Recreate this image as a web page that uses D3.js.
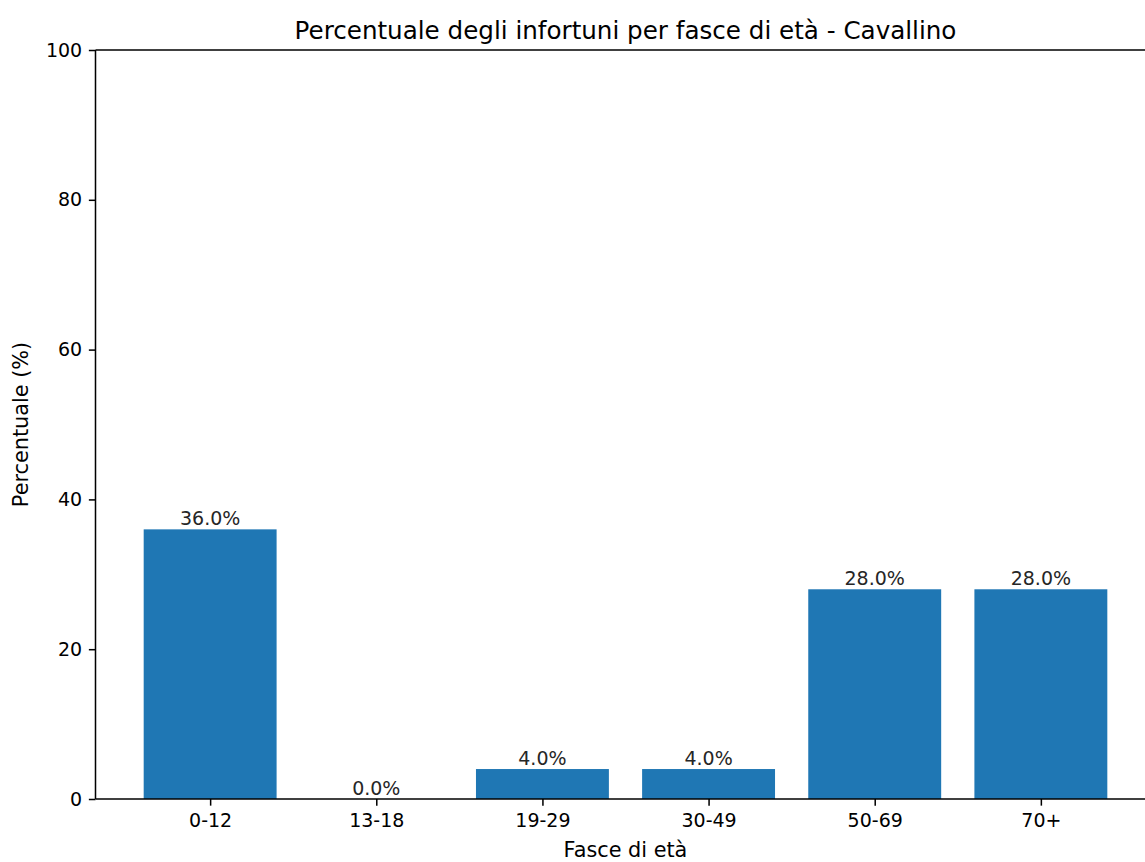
<!DOCTYPE html>
<html>
<head>
<meta charset="utf-8">
<script src="https://cdn.jsdelivr.net/npm/d3@7"></script>
<style>
  html, body { margin: 0; padding: 0; background: #fff; }
  svg { display: block; font-family: "DejaVu Sans", sans-serif; }
</style>
</head>
<body>
<svg id="chart" width="1145" height="862"></svg>
<script>
const categories = ["0-12", "13-18", "19-29", "30-49", "50-69", "70+"];
const values = [36.0, 0.0, 4.0, 4.0, 28.0, 28.0];
const yTicks = [0, 20, 40, 60, 80, 100];
const title = "Percentuale degli infortuni per fasce di età - Cavallino";
const xLabel = "Fasce di età";
const yLabel = "Percentuale (%)";

(function () {
const svg = d3.select("#chart");
const mLeft = 95.5, mRight = 1155.5, mTop = 50, mBottom = 799;
const pt = 1.9;

const n = categories.length;
const barW = 0.8;
const pad = (n - 1 + barW) * 0.05;
const x = d3.scaleLinear().domain([-barW / 2 - pad, n - 1 + barW / 2 + pad]).range([mLeft, mRight]);
const y = d3.scaleLinear().domain([0, 100]).range([mBottom, mTop]);

const g = svg.append("g");

// bars
g.selectAll("rect.bar").data(values).enter().append("rect")
  .attr("class", "bar")
  .attr("x", (d, i) => x(i - barW / 2))
  .attr("width", (d, i) => x(i + barW / 2) - x(i - barW / 2))
  .attr("y", d => y(d))
  .attr("height", d => y(0) - y(d))
  .attr("fill", "#1f77b4");

// bar labels
g.selectAll("text.lbl").data(values).enter().append("text")
  .attr("class", "lbl")
  .attr("x", (d, i) => x(i))
  .attr("y", d => y(d) - 4.5)
  .attr("text-anchor", "middle")
  .attr("font-size", 19)
  .attr("fill", "#262626")
  .text(d => d.toFixed(1) + "%");

// axes
const tickLen = 3.5 * pt, tickPad = 3.5 * pt;
const xAxis = d3.axisBottom(x)
  .tickValues(d3.range(n))
  .tickFormat(i => categories[i])
  .tickSize(tickLen).tickPadding(tickPad);
const yAxis = d3.axisLeft(y)
  .tickValues(yTicks)
  .tickFormat(d3.format("d"))
  .tickSize(tickLen).tickPadding(tickPad);

const gx = svg.append("g").attr("transform", `translate(0,${mBottom})`).call(xAxis);
const gy = svg.append("g").attr("transform", `translate(${mLeft},0)`).call(yAxis);
[gx, gy].forEach(a => {
  a.select(".domain").remove();
  a.selectAll(".tick line").attr("stroke", "#000").attr("stroke-width", 0.8 * pt);
  a.selectAll(".tick text").attr("font-size", 19).attr("fill", "#000")
    .attr("font-family", "DejaVu Sans, sans-serif");
});
gx.selectAll(".tick text").attr("dy", "0.76em");

// spines
const sp = svg.append("g").attr("stroke", "#000").attr("stroke-width", 0.8 * pt).attr("fill", "none");
sp.append("line").attr("x1", mLeft).attr("x2", mLeft).attr("y1", mTop).attr("y2", mBottom);
sp.append("line").attr("x1", mLeft).attr("x2", mRight).attr("y1", mBottom).attr("y2", mBottom);
sp.append("line").attr("x1", mLeft).attr("x2", mRight).attr("y1", mTop).attr("y2", mTop);
sp.append("line").attr("x1", mRight).attr("x2", mRight).attr("y1", mTop).attr("y2", mBottom);

// title
svg.append("text")
  .attr("x", (mLeft + mRight) / 2).attr("y", 38.5)
  .attr("text-anchor", "middle").attr("font-size", 24.6).attr("fill", "#000")
  .text(title);

// axis labels
svg.append("text")
  .attr("x", (mLeft + mRight) / 2).attr("y", 857)
  .attr("text-anchor", "middle").attr("font-size", 20.8).attr("fill", "#000")
  .text(xLabel);
svg.append("text")
  .attr("transform", `translate(28,${(mTop + mBottom) / 2}) rotate(-90)`)
  .attr("text-anchor", "middle").attr("font-size", 20.8).attr("fill", "#000")
  .text(yLabel);
})();
</script>
</body>
</html>
